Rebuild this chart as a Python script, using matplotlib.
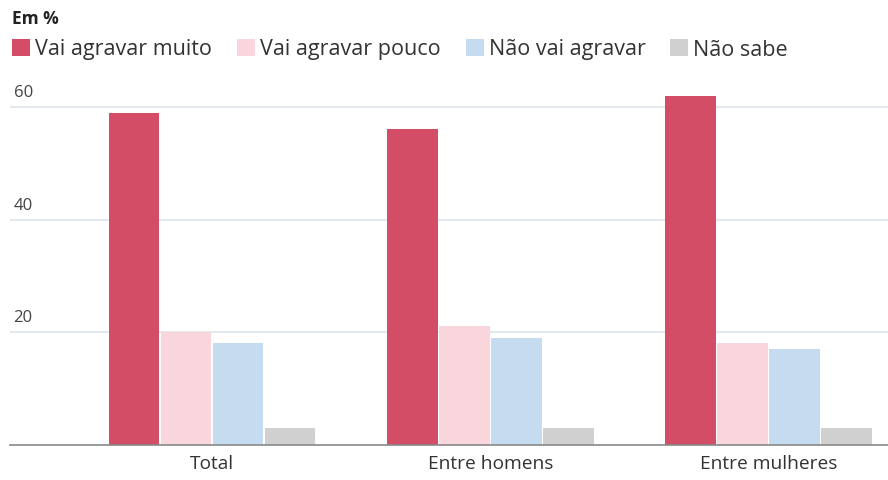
import numpy as np
import matplotlib.pyplot as plt
from matplotlib.patches import Patch

# -----------------------------
# Data
# -----------------------------
groups = ["Total", "Entre homens", "Entre mulheres"]
series = ["Vai agravar muito", "Vai agravar pouco", "Não vai agravar", "Não sabe"]
muito = [59, 56, 62]
pouco = [20, 21, 18]
nao_vai = [18, 19, 17]
nao_sabe = [3, 3, 3]

colors = ["#d44d66", "#f9d5dc", "#c5dbf0", "#d0d0d0"]
values = [muito, pouco, nao_vai, nao_sabe]

plt.rcParams["font.family"] = ["Open Sans", "DejaVu Sans"]

fig = plt.figure(figsize=(8.88, 4.81), dpi=100)
ax = fig.add_axes([10 / 888, 1 - 445.7 / 481, 1 - 10 / 888, 64 * 5.63 / 481])

x = np.arange(len(groups))
w = 0.187
for i, (vals, c) in enumerate(zip(values, colors)):
    ax.bar(x + (i - 1.5) * w, vals, width=w * 0.97, color=c, zorder=2)

ax.set_xlim(-0.727, 2.43)
ax.set_ylim(0, 64)
ax.set_yticks([20, 40, 60])
ax.yaxis.grid(True, color="#dfe5ec", linewidth=1.2, zorder=0)
ax.tick_params(axis="y", length=0, labelleft=False)
for t in [20, 40, 60]:
    ax.text(0.004, t + 1.2, str(t), transform=ax.get_yaxis_transform(),
            fontsize=12, color="#444444", va="bottom", ha="left")

ax.set_xticks(x)
ax.set_xticklabels(groups, fontsize=13.8, color="#333333")
ax.tick_params(axis="x", length=0, pad=7)

for s in ["top", "right", "left"]:
    ax.spines[s].set_visible(False)
ax.spines["bottom"].set_color("#888888")
ax.spines["bottom"].set_linewidth(1.2)

fig.text(12 / 888, 1 - 19 / 481, "Em %", fontsize=12.5, fontweight="bold",
         color="#222222", va="center", ha="left")

handles = [Patch(facecolor=c, edgecolor="none") for c in colors]
fig.legend(handles, series, loc="center left", bbox_to_anchor=(12 / 888, 1 - 50 / 481),
           ncol=4, frameon=False, fontsize=15.5, handlelength=0.84, handleheight=0.84,
           handletextpad=0.23, columnspacing=1.16, borderaxespad=0, borderpad=0,
           labelcolor="#333333")

fig.savefig("out.png", dpi=100)
